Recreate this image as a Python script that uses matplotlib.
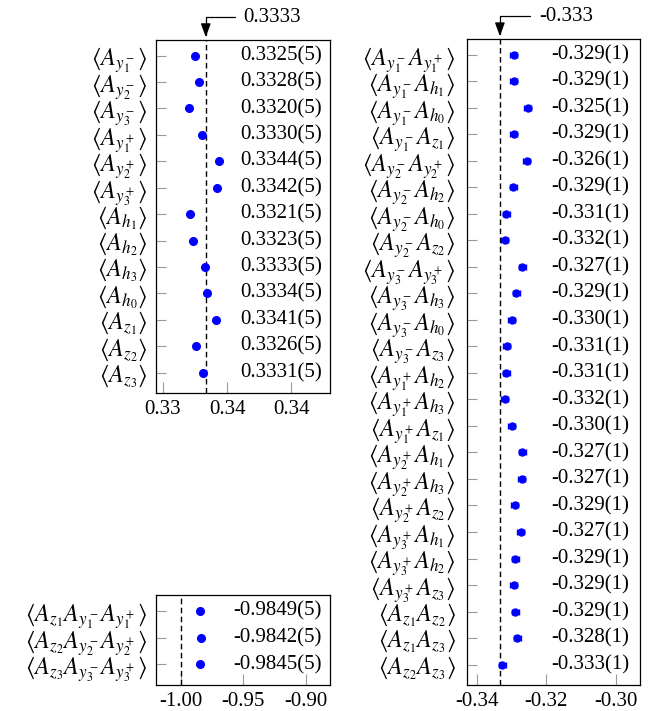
import numpy as np
import matplotlib
matplotlib.use('Agg')
import matplotlib.pyplot as plt
from matplotlib.ticker import FormatStrFormatter

plt.rcParams['font.family'] = 'serif'
plt.rcParams['font.serif'] = ['Liberation Serif', 'DejaVu Serif']
plt.rcParams['mathtext.fontset'] = 'stix'
plt.rcParams['axes.unicode_minus'] = True

# single expectation values
single_ops = ['y_1^-', 'y_2^-', 'y_3^-', 'y_1^+', 'y_2^+', 'y_3^+',
              'h_1', 'h_2', 'h_3', 'h_0', 'z_1', 'z_2', 'z_3']
single_vals = [0.3325, 0.3328, 0.3320, 0.3330, 0.3344, 0.3342,
               0.3321, 0.3323, 0.3333, 0.3334, 0.3341, 0.3326, 0.3331]
single_text = ['0.3325(5)', '0.3328(5)', '0.3320(5)', '0.3330(5)', '0.3344(5)',
               '0.3342(5)', '0.3321(5)', '0.3323(5)', '0.3333(5)', '0.3334(5)',
               '0.3341(5)', '0.3326(5)', '0.3331(5)']
single_ref = 1 / 3

# three-body correlators
triple_ops = [('z_1', 'y_1^-', 'y_1^+'), ('z_2', 'y_2^-', 'y_2^+'), ('z_3', 'y_3^-', 'y_3^+')]
triple_vals = [-0.9849, -0.9842, -0.9845]
triple_text = ['-0.9849(5)', '-0.9842(5)', '-0.9845(5)']
triple_ref = -1.0

# two-body correlators
pair_ops = [('y_1^-', 'y_1^+'), ('y_1^-', 'h_1'), ('y_1^-', 'h_0'), ('y_1^-', 'z_1'),
            ('y_2^-', 'y_2^+'), ('y_2^-', 'h_2'), ('y_2^-', 'h_0'), ('y_2^-', 'z_2'),
            ('y_3^-', 'y_3^+'), ('y_3^-', 'h_3'), ('y_3^-', 'h_0'), ('y_3^-', 'z_3'),
            ('y_1^+', 'h_2'), ('y_1^+', 'h_3'), ('y_1^+', 'z_1'),
            ('y_2^+', 'h_1'), ('y_2^+', 'h_3'), ('y_2^+', 'z_2'),
            ('y_3^+', 'h_1'), ('y_3^+', 'h_2'), ('y_3^+', 'z_3'),
            ('z_1', 'z_2'), ('z_1', 'z_3'), ('z_2', 'z_3')]
pair_vals = [-0.3294, -0.3293, -0.3253, -0.3293, -0.3256, -0.3295, -0.3315, -0.3319,
             -0.3269, -0.3286, -0.3300, -0.3313, -0.3315, -0.3319, -0.3300,
             -0.3269, -0.3270, -0.3291, -0.3273, -0.3289, -0.3294,
             -0.3289, -0.3284, -0.3326]
pair_err = 0.001
pair_text = ['-0.329(1)', '-0.329(1)', '-0.325(1)', '-0.329(1)', '-0.326(1)', '-0.329(1)',
             '-0.331(1)', '-0.332(1)', '-0.327(1)', '-0.329(1)', '-0.330(1)', '-0.331(1)',
             '-0.331(1)', '-0.332(1)', '-0.330(1)', '-0.327(1)', '-0.327(1)', '-0.329(1)',
             '-0.327(1)', '-0.329(1)', '-0.329(1)', '-0.329(1)', '-0.328(1)', '-0.333(1)']
pair_ref = -1 / 3

FS = 15
LFS = 17.5
blue = '#0000ff'


def label(ops):
    return r'$\langle ' + ''.join('A_{%s}' % o for o in ops) + r'\rangle$'


def setup(ax, n, labels, texts, text_x, ref, xlim, ypad):
    y = np.arange(n)
    ax.set_ylim(n - 1 + 0.77, -0.59)
    ax.set_xlim(*xlim)
    ax.set_yticks(y)
    ax.set_yticklabels(labels, fontsize=LFS)
    ax.axvline(ref, color='black', lw=1, ls=(0, (4, 2.5)))
    for i, t in enumerate(texts):
        ax.text(text_x, i, t, transform=ax.get_yaxis_transform(), ha='right',
                va='center', fontsize=FS)
    ax.tick_params(axis='both', direction='in', colors='#999999', labelcolor='black',
                   width=0.8)
    ax.tick_params(axis='x', labelsize=FS, length=8, pad=5)
    ax.tick_params(axis='y', length=7, pad=ypad)
    for s in ax.spines.values():
        s.set_linewidth(0.9)
    return y


def ref_arrow(ax, ref, txt, dx):
    ax.annotate(txt, xy=(ref, 1.0), xycoords=('data', 'axes fraction'),
                xytext=(dx, 16.5), textcoords='offset points', ha='left', va='center',
                fontsize=FS,
                arrowprops=dict(arrowstyle='-|>,head_length=0.55,head_width=0.2',
                                connectionstyle='angle,angleA=0,angleB=90,rad=0',
                                color='black', lw=0.9, shrinkA=4, shrinkB=2))


fig = plt.figure(figsize=(6.55, 7.11), dpi=100)

# top left panel
ax1 = fig.add_axes([0.2382, 0.4473, 0.2656, 0.4965])
y = setup(ax1, len(single_vals), [label([o]) for o in single_ops], single_text, 0.954,
          single_ref, (0.32946, 0.34300), 6)
ax1.plot(single_vals, y, 'o', color=blue, ms=5.5, mec=blue)
ax1.set_xticks([0.330, 0.335, 0.340])
ax1.xaxis.set_major_formatter(FormatStrFormatter('%.2f'))
ref_arrow(ax1, single_ref, '0.3333', 27)

# bottom left panel
ax2 = fig.add_axes([0.2382, 0.03657, 0.2656, 0.1266])
y = setup(ax2, len(triple_vals), [label(o) for o in triple_ops], triple_text, 0.954,
          triple_ref, (-1.0201, -0.8805), 6)
ax2.plot(triple_vals, y, 'o', color=blue, ms=5.5, mec=blue)
ax2.set_xticks([-1.00, -0.95, -0.90])
ax2.xaxis.set_major_formatter(FormatStrFormatter('%.2f'))

# right panel
ax3 = fig.add_axes([0.7125, 0.03657, 0.2646, 0.9085])
y = setup(ax3, len(pair_vals), [label(o) for o in pair_ops], pair_text, 0.938,
          pair_ref, (-0.34286, -0.29314), 8)
ax3.errorbar(pair_vals, y, xerr=pair_err, fmt='o', color=blue, ms=5, mec=blue,
             elinewidth=1, capsize=2, capthick=1)
ax3.set_xticks([-0.34, -0.32, -0.30])
ax3.xaxis.set_major_formatter(FormatStrFormatter('%.2f'))
ref_arrow(ax3, pair_ref, '-0.333', 28)

fig.savefig('out.png', dpi=100)
